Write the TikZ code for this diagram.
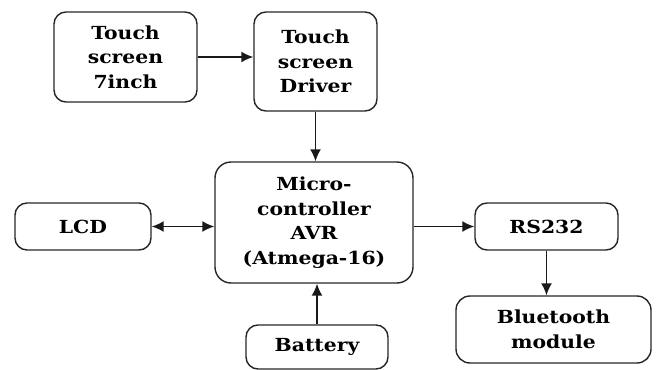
\documentclass[tikz,border=0pt]{standalone}
\usepackage{fontspec}
\setmainfont{DejaVu Serif}[FakeStretch=1.13]
\usepackage{tikz}
\usetikzlibrary{arrows.meta}

\begin{document}
\begin{tikzpicture}[x=1pt,y=1pt,
				blk/.style={draw=black!85,line width=1.4pt,rounded corners=12pt,align=center,inner sep=0pt,
					font=\fontsize{18}{24.5}\selectfont\bfseries},
				con/.style={draw=black!90,line width=1.6pt,-{Latex[length=12pt,width=11pt]}}]
				\useasboundingbox (0,0) rectangle (657,-370);
				\node [blk,minimum width=143pt,minimum height=90pt] (tsc) at (125.5,-57) {Touch\\screen\\7inch};
				\node [blk,minimum width=123pt,minimum height=99pt] (drv) at (315.5,-61.5) {Touch\\screen\\Driver};
				\node [blk,minimum width=198pt,minimum height=121pt,rounded corners=16pt] (mcu) at (314,-222.5) {Micro-\\controller\\AVR\\(Atmega-16)};
				\node [blk,minimum width=136pt,minimum height=47pt] (lcd) at (83,-226.5) {LCD};
				\node [blk,minimum width=143pt,minimum height=47pt] (rs) at (546.5,-226.5) {RS232};
				\node [blk,minimum width=195pt,minimum height=67pt,rounded corners=14pt] (bt) at (553.5,-329.5) {Bluetooth\\module};
				\node [blk,minimum width=142pt,minimum height=44pt] (bat) at (317,-347) {Battery};
				\draw [con] (tsc.east) -- (tsc.east -| drv.west);
				\draw [con] (drv.south) -- (drv.south |- mcu.north);
				\draw [con,{Latex[length=12pt,width=11pt]}-{Latex[length=12pt,width=11pt]}] (lcd.east) -- (lcd.east -| mcu.west);
				\draw [con] (mcu.east |- rs.west) -- (rs.west);
				\draw [con] (rs.south) -- (rs.south |- bt.north);
				\draw [con] (bat.north) -- (bat.north |- mcu.south);
\end{tikzpicture}
\end{document}
